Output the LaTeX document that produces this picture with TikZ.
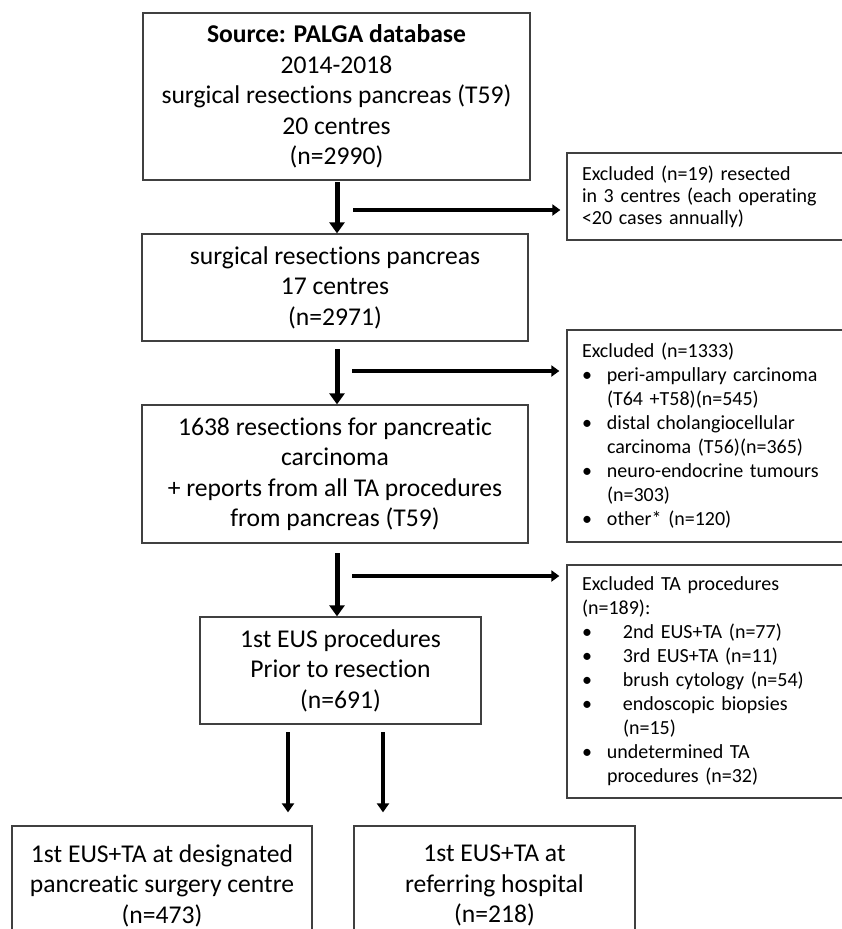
\documentclass[tikz,border=0pt]{standalone}
\usepackage{fontspec}
\setmainfont{Carlito}[Ligatures=NoCommon]
\usetikzlibrary{arrows.meta}
\begin{document}
\begin{tikzpicture}[x=1pt,y=-1pt,
  mainbox/.style={draw=black!75, line width=1.3pt, inner sep=0pt, align=center,
    font=\fontsize{25.6}{30.5}\selectfont},
  exbox/.style={draw=black!75, line width=1.3pt, inner xsep=15pt, inner ysep=0pt,
    align=left, text width=253pt, minimum width=283pt,
    font=\fontsize{20}{24}\selectfont},
  varrow/.style={line width=5pt, -{Triangle[length=11pt,width=15pt]}},
  harrow/.style={line width=4pt, -{Triangle[length=8pt,width=11pt]}},
  barrow/.style={line width=4.5pt, -{Triangle[length=9pt,width=12pt]}}]
\useasboundingbox (0,0) rectangle (842,929);
\clip (0,0) rectangle (842,929);
\fill[white] (0,0) rectangle (842,929);

\node[mainbox, minimum width=387pt, minimum height=167pt] (b1) at (336.5,96.5)
  {\textbf{Source: PALGA database}\\2014-2018\\surgical resections pancreas (T59)\\20 centres\\(n=2990)};
\node[mainbox, minimum width=386pt, minimum height=107pt] (b2) at (335,287.5)
  {surgical resections pancreas\\17 centres\\(n=2971)};
\node[mainbox, minimum width=386pt, minimum height=138pt] (b3) at (335,474)
  {1638 resections for pancreatic\\carcinoma\\+ reports from all TA procedures\\from pancreas (T59)};
\node[mainbox, minimum width=281pt, minimum height=107pt] (b4) at (340.5,670.5)
  {1st EUS procedures\\Prior to resection\\(n=691)};
\node[mainbox, minimum width=300pt, minimum height=119pt] (b5) at (162,885.5)
  {1st EUS+TA at designated\\pancreatic surgery centre\\(n=473)};
\node[mainbox, minimum width=281pt, minimum height=119pt] (b6) at (494.5,885.5)
  {1st EUS+TA at\\referring hospital\\(n=218)};

\node[exbox, minimum height=87pt, font=\fontsize{20}{22}\selectfont] (e1) at (708.5,196.5)
  {Excluded (n=19) resected\\in 3 centres (each operating\\<20 cases annually)};
\node[exbox, minimum height=212pt] (e2) at (708.5,436)
  {Excluded (n=1333)\\
   \makebox[25pt][l]{\textbullet}peri-ampullary carcinoma\\
   \hspace*{25pt}(T64 +T58)(n=545)\\
   \makebox[25pt][l]{\textbullet}distal cholangiocellular\\
   \hspace*{25pt}carcinoma (T56)(n=365)\\
   \makebox[25pt][l]{\textbullet}neuro-endocrine tumours\\
   \hspace*{25pt}(n=303)\\
   \makebox[25pt][l]{\textbullet}other* (n=120)};
\node[exbox, minimum height=233pt] (e3) at (708.5,681.5)
  {Excluded TA procedures\\(n=189):\\
   \makebox[41pt][l]{\textbullet}2nd EUS+TA (n=77)\\
   \makebox[41pt][l]{\textbullet}3rd EUS+TA (n=11)\\
   \makebox[41pt][l]{\textbullet}brush cytology (n=54)\\
   \makebox[41pt][l]{\textbullet}endoscopic biopsies\\
   \hspace*{41pt}(n=15)\\
   \makebox[25pt][l]{\textbullet}undetermined TA\\
   \hspace*{25pt}procedures (n=32)};

% vertical arrows
\coordinate (v1a) at (337,182);
\coordinate (v2a) at (337,349);
\coordinate (v3a) at (337,553);
\draw[varrow] (v1a) -- (v1a |- b2.north);
\draw[varrow] (v2a) -- (v2a |- b3.north);
\draw[varrow] (v3a) -- (v3a |- b4.north);

% horizontal arrows
\coordinate (h1) at (353,210);
\coordinate (h2) at (352,371);
\coordinate (h3) at (352,576);
\draw[harrow, shorten >=6pt] (h1) -- (h1 -| e1.west);
\draw[harrow, shorten >=7pt] (h2) -- (h2 -| e2.west);
\draw[harrow, shorten >=7pt] (h3) -- (h3 -| e3.west);

% bottom arrows
\coordinate (d1) at (288,732);
\coordinate (d2) at (383,732);
\draw[barrow, shorten >=13pt] (d1) -- (d1 |- b5.north);
\draw[barrow, shorten >=13pt] (d2) -- (d2 |- b6.north);
\end{tikzpicture}
\end{document}
